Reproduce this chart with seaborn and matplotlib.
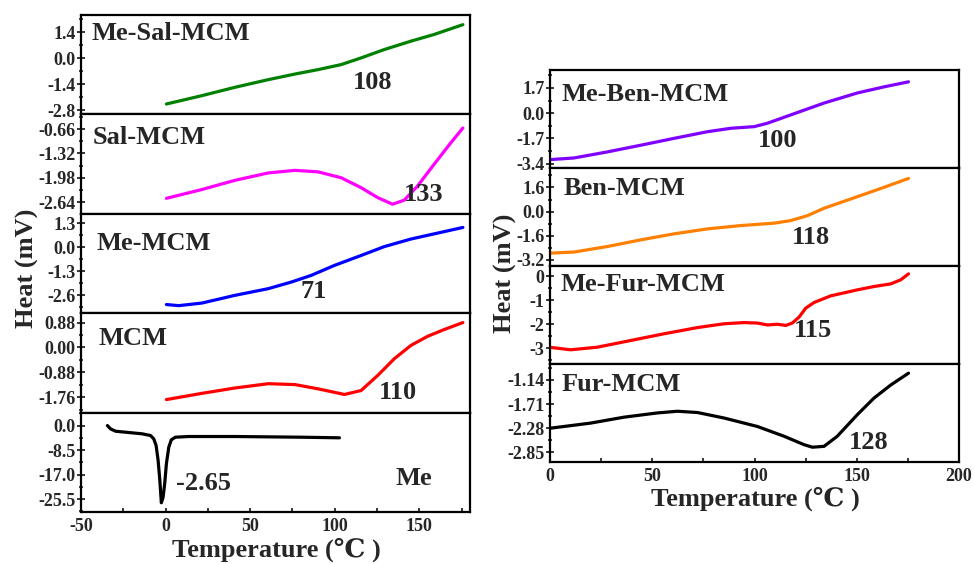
import pandas as pd
import seaborn as sns
import matplotlib.pyplot as plt
from matplotlib.ticker import FixedLocator, AutoMinorLocator, MultipleLocator

# ---- data ----
# left stack (x range -50..180)
me_sal_x = [0.5, 21.5, 41.1, 60.7, 76.4, 90.1, 103.8, 115.6, 129.3, 145, 158.7, 175.8]
me_sal_y = [-2.46, -2.01, -1.56, -1.15, -0.85, -0.61, -0.34, 0.02, 0.47, 0.92, 1.28, 1.81]

sal_x = [0.5, 21.5, 41.1, 60.7, 76.4, 90.1, 103.8, 115.6, 125.4, 134.2, 141.1, 148.9, 158.7, 168.5, 175.8]
sal_y = [-2.54, -2.30, -2.05, -1.85, -1.78, -1.82, -1.98, -2.25, -2.52, -2.70, -2.59, -2.21, -1.62, -1.04, -0.63]

me_x = [0.5, 7.8, 21.5, 41.1, 60.7, 74.4, 86.1, 99.8, 115.6, 129.3, 145, 158.7, 175.8]
me_y = [-3.10, -3.16, -3.02, -2.60, -2.24, -1.88, -1.52, -0.98, -0.44, 0.04, 0.45, 0.73, 1.08]

mcm_x = [0.5, 21.5, 41.1, 60.7, 76.4, 90.1, 105.8, 115.6, 125.4, 135.2, 145, 154.8, 164.6, 175.8]
mcm_y = [-1.84, -1.62, -1.43, -1.28, -1.31, -1.46, -1.66, -1.52, -0.99, -0.40, 0.07, 0.39, 0.63, 0.88]

pure_x = [-34.4, -32.5, -29.5, -21.6, -13.8, -8.9, -7.0, -5.6, -4.4, -3.4, -2.5, -1.5, -0.5, 0.5,
          1.9, 3.4, 5.8, 13.6, 41.1, 80.3, 102.8]
pure_y = [0.0, -1.16, -1.97, -2.42, -2.87, -3.45, -4.6, -6.9, -12.1, -18.95, -26.8, -25.0, -20.1, -13.2,
          -7.5, -4.94, -4.04, -3.8, -3.8, -4.04, -4.25]

# right stack (x range 0..200)
me_ben_x = [0.3, 11.7, 28.1, 44.4, 60.6, 77, 88.4, 99.8, 106.3, 117.7, 134, 150.3, 163.3, 175.3]
me_ben_y = [-3.13, -3.02, -2.61, -2.16, -1.70, -1.25, -1.02, -0.91, -0.68, -0.12, 0.68, 1.36, 1.77, 2.11]

ben_x = [0.3, 11.7, 28.1, 44.4, 60.6, 77, 93.3, 109.6, 117.7, 125.9, 134, 150.3, 163.3, 175.3]
ben_y = [-2.76, -2.69, -2.32, -1.88, -1.48, -1.15, -0.93, -0.77, -0.60, -0.27, 0.22, 0.99, 1.61, 2.20]

me_fur_x = [0.3, 10.1, 23.2, 39.5, 55.7, 72.1, 85.1, 94.9, 101.4, 106.3, 111.2, 115.3, 118.5, 121.8,
            125, 129.1, 137.3, 150.3, 158.4, 166.6, 171.5, 175.3]
me_fur_y = [-2.97, -3.07, -2.96, -2.68, -2.40, -2.14, -1.98, -1.93, -1.95, -2.03, -2.0, -2.05, -1.95, -1.70,
            -1.33, -1.09, -0.81, -0.56, -0.42, -0.31, -0.14, 0.11]

fur_x = [0.3, 19.9, 36.2, 52.5, 62.3, 72.1, 85.1, 101.4, 114.4, 124.2, 128.3, 134, 140.5, 150.3, 158.4,
         166.6, 175.3]
fur_y = [-2.28, -2.16, -2.02, -1.92, -1.88, -1.91, -2.04, -2.24, -2.47, -2.67, -2.73, -2.71, -2.47, -1.96,
         -1.57, -1.26, -0.98]

left_names = ['Me-Sal-MCM', 'Sal-MCM', 'Me-MCM', 'MCM', 'Me']
left_peaks = ['108', '133', '71', '110', '-2.65']
left_colors = ['#008000', '#ff00ff', '#0000ff', '#ff0000', '#000000']
left_curves = [(me_sal_x, me_sal_y), (sal_x, sal_y), (me_x, me_y), (mcm_x, mcm_y), (pure_x, pure_y)]
left_yticks = [[-2.8, -1.4, 0.0, 1.4], [-2.64, -1.98, -1.32, -0.66], [-2.6, -1.3, 0.0, 1.3],
               [-1.76, -0.88, 0.00, 0.88], [-25.5, -17.0, -8.5, 0.0]]
left_ylims = [(-3.02, 2.33), (-2.96, -0.26), (-3.57, 1.82), (-2.30, 1.21), (-30.0, 4.5)]
left_fmt = ['%.1f', '%.2f', '%.1f', '%.2f', '%.1f']

right_names = ['Me-Ben-MCM', 'Ben-MCM', 'Me-Fur-MCM', 'Fur-MCM']
right_peaks = ['100', '118', '115', '128']
right_colors = ['#8000ff', '#ff8000', '#ff0000', '#000000']
right_curves = [(me_ben_x, me_ben_y), (ben_x, ben_y), (me_fur_x, me_fur_y), (fur_x, fur_y)]
right_yticks = [[-3.4, -1.7, 0.0, 1.7], [-3.2, -1.6, 0.0, 1.6], [-3, -2, -1, 0], [-2.85, -2.28, -1.71, -1.14]]
right_ylims = [(-3.67, 2.94), (-3.6, 2.92), (-3.66, 0.45), (-3.08, -0.76)]
right_fmt = ['%.1f', '%.1f', '%g', '%.2f']

# label positions in axes fraction: (name_x, name_y, peak_x, peak_y)
left_pos = [(0.026, 0.81, 0.75, 0.32), (0.03, 0.763, 0.882, 0.19), (0.04, 0.705, 0.599, 0.222),
            (0.045, 0.744, 0.816, 0.205), (0.856, 0.34, 0.316, 0.287)]
right_pos = [(0.029, 0.75, 0.556, 0.278), (0.033, 0.785, 0.638, 0.288),
             (0.026, 0.804, 0.644, 0.339), (0.029, 0.794, 0.78, 0.194)]

sns.set_style('ticks')
plt.rcParams['font.family'] = ['Liberation Serif', 'DejaVu Serif']
plt.rcParams['font.weight'] = 'bold'
plt.rcParams['axes.unicode_minus'] = False

fig = plt.figure(figsize=(9.74, 5.64), dpi=100)


def draw_stack(left, right, bottom, top, names, peaks, colors, curves, yticks, ylims, fmts, pos,
               xlim, xmajor, name_first):
    n = len(names)
    h = (top - bottom) / n
    for i in range(n):
        ax = fig.add_axes([left, top - (i + 1) * h, right - left, h])
        cx, cy = curves[i]
        sns.lineplot(x=cx, y=cy, ax=ax, color=colors[i], linewidth=2.3, sort=False, estimator=None)
        ax.set_xlim(*xlim)
        ax.set_ylim(*ylims[i])
        ax.yaxis.set_major_locator(FixedLocator(yticks[i]))
        ax.set_yticklabels([fmts[i] % v for v in yticks[i]])
        ax.yaxis.set_minor_locator(AutoMinorLocator(2))
        ax.tick_params(axis='y', which='major', direction='inout', length=6, width=1.3,
                       labelsize=13, pad=1)
        ax.tick_params(axis='y', which='minor', direction='inout', length=3.5, width=1.2)
        for s in ax.spines.values():
            s.set_linewidth(1.6)
            s.set_color('black')
        if i < n - 1:
            ax.tick_params(axis='x', which='both', bottom=False, labelbottom=False)
        else:
            ax.xaxis.set_major_locator(MultipleLocator(xmajor))
            ax.xaxis.set_minor_locator(AutoMinorLocator(2))
            ax.tick_params(axis='x', which='major', direction='in', length=3, width=1.3,
                           labelsize=13, pad=4)
            ax.tick_params(axis='x', which='minor', direction='in', length=3, width=1.3)
        nx, ny, px, py = pos[i]
        ax.text(nx, ny, names[i], transform=ax.transAxes, fontsize=19, fontweight='bold',
                ha='left' if name_first[i] else 'center', va='center')
        ax.text(px, py, peaks[i], transform=ax.transAxes, fontsize=19, fontweight='bold',
                ha='center', va='center')
        ax.set_xlabel('')
        ax.set_ylabel('')


draw_stack(81 / 974, 470 / 974, 1 - 512 / 564, 1 - 15 / 564, left_names, left_peaks, left_colors,
           left_curves, left_yticks, left_ylims, left_fmt, left_pos, (-50, 180), 50,
           [True, True, True, True, False])
draw_stack(550 / 974, 959 / 974, 1 - 462 / 564, 1 - 69.5 / 564, right_names, right_peaks, right_colors,
           right_curves, right_yticks, right_ylims, right_fmt, right_pos, (0, 200), 50,
           [True, True, True, True])

fig.text(27 / 974, 1 - 268 / 564, 'Heat (mV)', rotation=90, fontsize=19, fontweight='bold',
         ha='center', va='center')
fig.text(505 / 974, 1 - 273 / 564, 'Heat (mV)', rotation=90, fontsize=19, fontweight='bold',
         ha='center', va='center')
fig.text(276 / 974, 1 - 550 / 564, 'Temperature (℃ )', fontsize=19, fontweight='bold',
         ha='center', va='center')
fig.text(755 / 974, 1 - 499 / 564, 'Temperature (℃ )', fontsize=19, fontweight='bold',
         ha='center', va='center')

fig.savefig('out.png', dpi=100)
